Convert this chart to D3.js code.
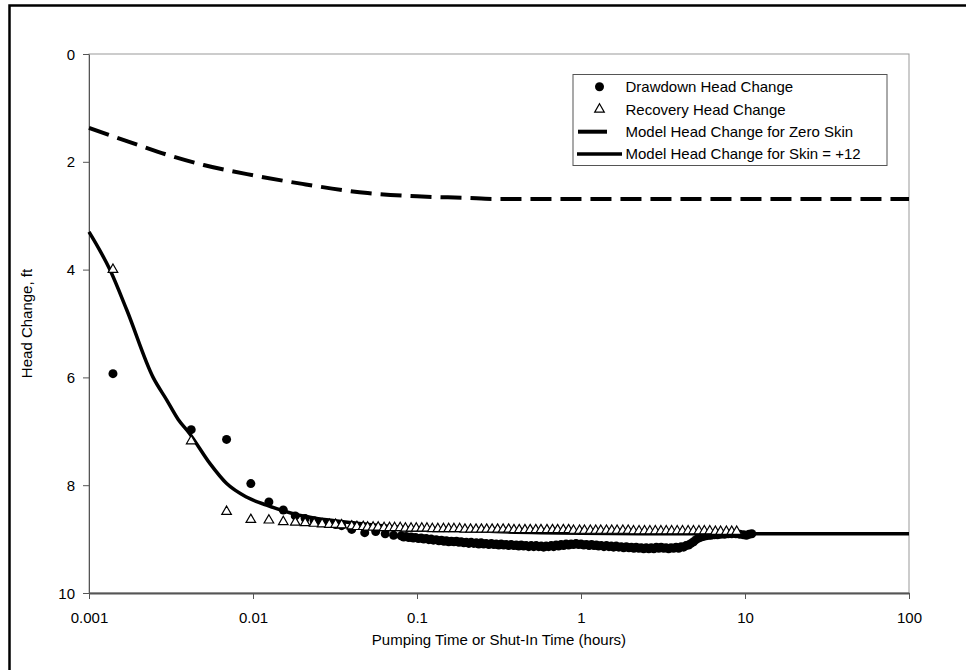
<!DOCTYPE html>
<html>
<head>
<meta charset="utf-8">
<script src="https://cdn.jsdelivr.net/npm/d3@7"></script>
<style>
  body { margin: 0; background: #fff; }
  svg { display: block; }
</style>
</head>
<body>
<div id="chart"></div>
<script>
// x tick values / labels
const xTicks = [0.001, 0.01, 0.1, 1, 10, 100];
const xTickLabels = ['0.001', '0.01', '0.1', '1', '10', '100'];
const yTicks = [0, 2, 4, 6, 8, 10];

// drawdown head change (filled circles)
const drawTime = [
  0.0014, 0.0042, 0.0069, 0.0097, 0.0125, 0.0153, 0.0181, 0.0208, 0.0236, 0.0264,
  0.0292, 0.0319, 0.0347, 0.040, 0.048, 0.056, 0.064, 0.072,
  0.080, 0.083, 0.086, 0.089, 0.092, 0.095, 0.098, 0.102, 0.106, 0.110,
  0.114, 0.118, 0.122, 0.126, 0.131, 0.136, 0.141, 0.146, 0.151, 0.156,
  0.162, 0.168, 0.174, 0.180, 0.186, 0.193, 0.200, 0.207, 0.214, 0.222,
  0.230, 0.238, 0.246, 0.255, 0.264, 0.274, 0.284, 0.294, 0.304, 0.315,
  0.326, 0.338, 0.350, 0.362, 0.375, 0.389, 0.403, 0.417, 0.432, 0.447,
  0.463, 0.480, 0.497, 0.515, 0.533, 0.552, 0.572, 0.592, 0.613, 0.635,
  0.658, 0.681, 0.705, 0.730, 0.756, 0.783, 0.811, 0.840, 0.870, 0.901,
  0.933, 0.966, 1.00, 1.04, 1.08, 1.12, 1.16, 1.20, 1.24, 1.28,
  1.33, 1.38, 1.43, 1.48, 1.53, 1.58, 1.64, 1.70, 1.76, 1.82,
  1.89, 1.96, 2.03, 2.10, 2.17, 2.25, 2.33, 2.41, 2.50, 2.59,
  2.68, 2.78, 2.88, 2.98, 3.08, 3.19, 3.30, 3.42, 3.54, 3.67,
  3.80, 3.94, 4.08, 4.22, 4.37, 4.53, 4.69, 4.86, 5.03, 5.21,
  5.40, 5.59, 5.79, 6.0, 6.2, 6.5, 6.8, 7.1, 7.5, 7.9,
  8.3, 8.8, 9.3, 9.8, 10.2, 10.6, 11.0];
const drawHead = [
  5.93, 6.97, 7.15, 7.97, 8.31, 8.46, 8.57, 8.62, 8.66, 8.69,
  8.71, 8.73, 8.75, 8.82, 8.88, 8.86, 8.90, 8.93,
  8.94, 8.96, 8.95, 8.97, 8.96, 8.98, 8.97, 8.99, 8.98, 9.00,
  8.99, 9.01, 9.00, 9.02, 9.01, 9.03, 9.02, 9.04, 9.03, 9.05,
  9.04, 9.05, 9.04, 9.06, 9.05, 9.07, 9.06, 9.08, 9.06, 9.08,
  9.07, 9.09, 9.07, 9.09, 9.08, 9.10, 9.08, 9.10, 9.09, 9.11,
  9.09, 9.11, 9.10, 9.12, 9.10, 9.12, 9.11, 9.13, 9.11, 9.13,
  9.12, 9.14, 9.12, 9.14, 9.12, 9.14, 9.13, 9.15, 9.13, 9.14,
  9.12, 9.14, 9.11, 9.13, 9.10, 9.12, 9.09, 9.11, 9.09, 9.10,
  9.08, 9.10, 9.09, 9.11, 9.10, 9.12, 9.10, 9.12, 9.11, 9.13,
  9.12, 9.14, 9.12, 9.14, 9.13, 9.15, 9.13, 9.15, 9.14, 9.16,
  9.14, 9.16, 9.15, 9.17, 9.15, 9.17, 9.16, 9.18, 9.16, 9.18,
  9.16, 9.18, 9.15, 9.17, 9.15, 9.17, 9.16, 9.18, 9.16, 9.17,
  9.15, 9.17, 9.14, 9.15, 9.12, 9.11, 9.08, 9.05, 9.01, 8.98,
  8.96, 8.95, 8.94, 8.93, 8.93, 8.92, 8.92, 8.91, 8.91, 8.90,
  8.90, 8.90, 8.91, 8.92, 8.93, 8.91, 8.90];

// recovery head change (open triangles)
const recTime = [0.0014, 0.0042, 0.0069, 0.0097, 0.0125, 0.0153, 0.0181, 0.0208, 0.0236, 0.0264,
  0.0292, 0.0319, 0.0347, 0.040, 0.043, 0.047, 0.050, 0.054, 0.058, 0.063, 0.068, 0.073, 0.079,
  0.085, 0.092, 0.099, 0.107, 0.115, 0.124, 0.134, 0.145, 0.156, 0.168, 0.182, 0.196, 0.212, 0.229,
  0.247, 0.266, 0.287, 0.31, 0.335, 0.362, 0.39, 0.42, 0.455, 0.49, 0.53, 0.57, 0.62, 0.67, 0.72,
  0.78, 0.84, 0.90, 0.98, 1.05, 1.14, 1.23, 1.32, 1.43, 1.54, 1.66, 1.80, 1.94, 2.09, 2.26, 2.44,
  2.63, 2.84, 3.07, 3.31, 3.57, 3.86, 4.16, 4.50, 4.85, 5.24, 5.65, 6.1, 6.6, 7.1, 7.7, 8.3, 8.9];
const recHead = [4.00, 7.18, 8.49, 8.64, 8.65, 8.68, 8.69, 8.70, 8.71, 8.72,
  8.73, 8.73, 8.74, 8.76, 8.77, 8.77, 8.78, 8.78, 8.78, 8.79, 8.79, 8.79, 8.79,
  8.80, 8.80, 8.80, 8.80, 8.80, 8.81, 8.81, 8.81, 8.81, 8.81, 8.81, 8.82, 8.82, 8.82,
  8.82, 8.82, 8.82, 8.82, 8.82, 8.82, 8.83, 8.83, 8.83, 8.83, 8.83, 8.83, 8.83, 8.83, 8.83,
  8.83, 8.83, 8.84, 8.84, 8.84, 8.84, 8.84, 8.84, 8.84, 8.84, 8.84, 8.84, 8.84, 8.85, 8.85, 8.85,
  8.85, 8.85, 8.85, 8.85, 8.85, 8.85, 8.85, 8.85, 8.85, 8.85, 8.85, 8.85, 8.86, 8.86, 8.86, 8.86, 8.86];

// model, zero skin (dashed)
const zeroTime = [0.001, 0.002, 0.003, 0.005, 0.01, 0.02, 0.05, 0.1, 0.2, 0.3, 1, 10, 100];
const zeroHead = [1.37, 1.69, 1.87, 2.06, 2.25, 2.41, 2.58, 2.64, 2.67, 2.69, 2.69, 2.69, 2.69];

// model, skin = +12 (solid)
const skinTime = [0.001, 0.00134, 0.0017, 0.00246, 0.00298, 0.0035, 0.0041, 0.00547, 0.00691,
  0.00912, 0.0121, 0.0176, 0.0445, 0.1, 0.3, 1, 3, 10, 100];
const skinHead = [3.3, 4.0, 4.75, 6.0, 6.42, 6.78, 7.04, 7.6, 7.97,
  8.22, 8.37, 8.53, 8.71, 8.8, 8.86, 8.89, 8.9, 8.9, 8.9];

const legendLabels = ['Drawdown Head Change', 'Recovery Head Change',
  'Model Head Change for Zero Skin', 'Model Head Change for Skin = +12'];

const FONT = '"Liberation Sans", Arial, sans-serif';
const width = 976;
const height = 670;
const margin = { top: 54, right: 67, bottom: 77, left: 89 };
const innerWidth = width - margin.left - margin.right;
const innerHeight = height - margin.top - margin.bottom;

const xScale = d3.scaleLog()
  .domain([0.001, 100])
  .range([0, innerWidth]);

const yScale = d3.scaleLinear()
  .domain([0, 10])
  .range([0, innerHeight]);

const zip = (t, h) => t.map((d, i) => ({ t: d, h: h[i] }));

const line = d3.line()
  .x(d => xScale(d.t))
  .y(d => yScale(d.h))
  .curve(d3.curveMonotoneX);

const svg = d3.select('#chart')
  .append('svg')
    .attr('width', width)
    .attr('height', height)
    .attr('font-family', FONT)
    .attr('font-size', 15);

// page frame (top + left)
svg.append('path')
  .attr('d', 'M9.5,670 V5.5 H966')
  .attr('fill', 'none')
  .attr('stroke', '#000')
  .attr('stroke-width', 2.5);

const inner = svg.append('g')
  .attr('transform', `translate(${margin.left}, ${margin.top})`);

// plot area border
inner.append('rect')
  .attr('width', innerWidth)
  .attr('height', innerHeight)
  .attr('fill', 'none')
  .attr('stroke', '#999')
  .attr('stroke-width', 1);

// x axis
const xAxis = inner.append('g')
  .attr('class', 'axis axis-x')
  .attr('transform', `translate(0, ${innerHeight})`)
  .call(d3.axisBottom(xScale)
    .tickValues(xTicks)
    .tickFormat((d, i) => xTickLabels[i])
    .tickSize(6)
    .tickSizeOuter(0))
  .attr('font-size', 15)
  .attr('font-family', FONT);
xAxis.select('.domain').attr('stroke', '#555').attr('stroke-width', 2);
xAxis.selectAll('line').attr('stroke', '#555');
xAxis.selectAll('text').attr('dy', null).attr('y', 30).attr('fill', '#000');

// y axis
const yAxis = inner.append('g')
  .attr('class', 'axis axis-y')
  .call(d3.axisLeft(yScale)
    .tickValues(yTicks)
    .tickSize(6)
    .tickSizeOuter(0)
    .tickPadding(8))
  .attr('font-size', 15)
  .attr('font-family', FONT);
yAxis.select('.domain').attr('stroke', '#555');
yAxis.selectAll('line').attr('stroke', '#555');
yAxis.selectAll('text').attr('dy', null).attr('y', 5).attr('fill', '#000');

// axis titles
svg.append('text')
  .attr('x', margin.left + innerWidth / 2)
  .attr('y', 645)
  .attr('text-anchor', 'middle')
  .text('Pumping Time or Shut-In Time (hours)');

svg.append('text')
  .attr('transform', `translate(32, ${margin.top + innerHeight / 2}) rotate(-90)`)
  .attr('text-anchor', 'middle')
  .text('Head Change, ft');

// model lines
inner.append('path')
  .attr('class', 'line-zero')
  .attr('d', line(zip(zeroTime, zeroHead)))
  .attr('fill', 'none')
  .attr('stroke', '#000')
  .attr('stroke-width', 4)
  .attr('stroke-dasharray', '21,9');

inner.append('path')
  .attr('class', 'line-skin')
  .attr('d', line(zip(skinTime, skinHead)))
  .attr('fill', 'none')
  .attr('stroke', '#000')
  .attr('stroke-width', 3.5);

const tri = d3.symbol().type(d3.symbolTriangle).size(40);

// drawdown points
inner.selectAll('.dot')
    .data(zip(drawTime, drawHead))
  .enter().append('circle')
    .attr('class', 'dot')
    .attr('r', 4.5)
    .attr('cx', d => xScale(d.t))
    .attr('cy', d => yScale(d.h))
    .attr('fill', '#000');

// recovery points
inner.selectAll('.tri')
    .data(zip(recTime, recHead))
  .enter().append('path')
    .attr('class', 'tri')
    .attr('d', tri)
    .attr('transform', d => `translate(${xScale(d.t)}, ${yScale(d.h)})`)
    .attr('fill', '#fff')
    .attr('stroke', '#000')
    .attr('stroke-width', 1.2);

// legend
const legend = svg.append('g')
  .attr('transform', 'translate(573, 74.5)');

legend.append('rect')
  .attr('width', 314)
  .attr('height', 91)
  .attr('fill', '#fff')
  .attr('stroke', '#555')
  .attr('stroke-width', 1);

const rowY = [12.2, 34.8, 57.2, 79.5];

legend.append('circle')
  .attr('cx', 26.5).attr('cy', rowY[0])
  .attr('r', 4.5)
  .attr('fill', '#000');

legend.append('path')
  .attr('d', tri)
  .attr('transform', `translate(26.5, ${rowY[1]})`)
  .attr('fill', '#fff')
  .attr('stroke', '#000')
  .attr('stroke-width', 1.2);

legend.append('line')
  .attr('x1', 5).attr('x2', 34)
  .attr('y1', rowY[2]).attr('y2', rowY[2])
  .attr('stroke', '#000')
  .attr('stroke-width', 4);

legend.append('line')
  .attr('x1', 4).attr('x2', 49)
  .attr('y1', rowY[3]).attr('y2', rowY[3])
  .attr('stroke', '#000')
  .attr('stroke-width', 3.5);

legend.selectAll('.legend-label')
    .data(legendLabels)
  .enter().append('text')
    .attr('class', 'legend-label')
    .attr('x', 52.5)
    .attr('y', (d, i) => rowY[i] + 5.3)
    .text(d => d);
</script>
</body>
</html>
